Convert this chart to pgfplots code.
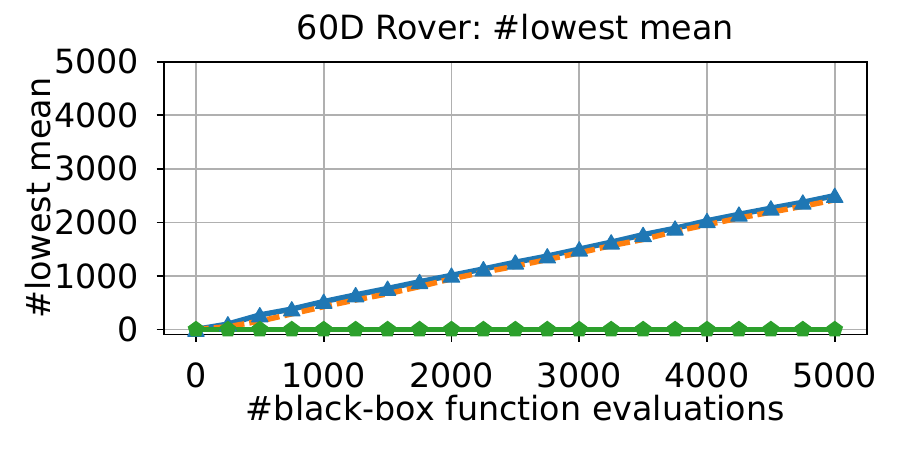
\documentclass[border=0pt]{standalone}
\usepackage{fontspec}
\setmainfont{DejaVu Sans}
\usepackage{pgfplots}
\pgfplotsset{compat=1.18}
\definecolor{c1}{HTML}{1F77B4}
\definecolor{c2}{HTML}{FF7F0E}
\definecolor{c3}{HTML}{2CA02C}
\definecolor{gridc}{HTML}{B0B0B0}
\frenchspacing
\begin{document}
\fontsize{16pt}{19pt}\selectfont
\begin{tikzpicture}
\useasboundingbox (-78.72pt,-55.44pt) rectangle (353.28pt,160.56pt);
\begin{axis}[
 at={(0,0)}, anchor=south west,
 scale only axis, width=337.3pt, height=130.9pt,
 xmin=-250, xmax=5250, ymin=-95, ymax=5000,
 xtick={0,1000,...,5000}, ytick={0,1000,...,5000},
 tick pos=left, tick align=outside, major tick length=3.5pt,
 every tick/.style={black, line width=0.8pt},
 axis line style={line width=0.8pt},
 grid=major, major grid style={gridc, line width=0.8pt},
 /pgf/number format/1000 sep={},
 /pgf/number format/assume math mode=true,
 tick label style={font=\fontsize{16pt}{19pt}\selectfont},
 xticklabel style={anchor=north, inner sep=0pt, yshift=-9.8pt},
 yticklabel style={anchor=east, inner sep=0pt, xshift=-8.3pt},
 title={60D Rover: \#lowest mean},
 title style={at={(axis description cs:0.5,1)}, anchor=base, yshift=4.5pt, inner sep=0pt, font=\fontsize{16pt}{19pt}\selectfont},
 xlabel={\#black-box function evaluations},
 xlabel style={at={(axis description cs:0.5,0)}, anchor=base, yshift=-41.5pt, inner sep=0pt, font=\fontsize{16pt}{19pt}\selectfont},
 ylabel={\#lowest mean},
 ylabel style={at={(axis description cs:-0.1622,0.5)}, anchor=base, inner sep=0pt, font=\fontsize{16pt}{19pt}\selectfont},
]
\addplot[c1, line width=2.6pt, line join=round, mark=triangle*, mark size=4.5pt, mark options={solid, line width=0.6pt, yshift=-1pt}] coordinates {
(0,0) (250,100) (500,270) (750,380) (1000,520) (1250,645) (1500,765) (1750,890) (2000,1010) (2250,1130) (2500,1255) (2750,1370) (3000,1500) (3250,1630) (3500,1770) (3750,1890) (4000,2030) (4250,2150) (4500,2265) (4750,2375) (5000,2500)
};
\addplot[c2, line width=2.6pt, dash pattern=on 6.2pt off 2.4pt] coordinates {
(0,0) (250,50) (500,155) (750,290) (1000,425) (1250,550) (1500,665) (1750,800) (2000,945) (2250,1068) (2500,1180) (2750,1305) (3000,1430) (3250,1565) (3500,1680) (3750,1830) (4000,1955) (4250,2080) (4500,2190) (4750,2300) (5000,2420)
};
\addplot[c3, line width=2.6pt, mark=pentagon*, mark size=3.8pt, mark options={solid, line width=0.6pt}] coordinates {
(0,0) (250,0) (500,0) (750,0) (1000,0) (1250,0) (1500,0) (1750,0) (2000,0) (2250,0) (2500,0) (2750,0) (3000,0) (3250,0) (3500,0) (3750,0) (4000,0) (4250,0) (4500,0) (4750,0) (5000,0)
};
\end{axis}
\end{tikzpicture}
\end{document}
